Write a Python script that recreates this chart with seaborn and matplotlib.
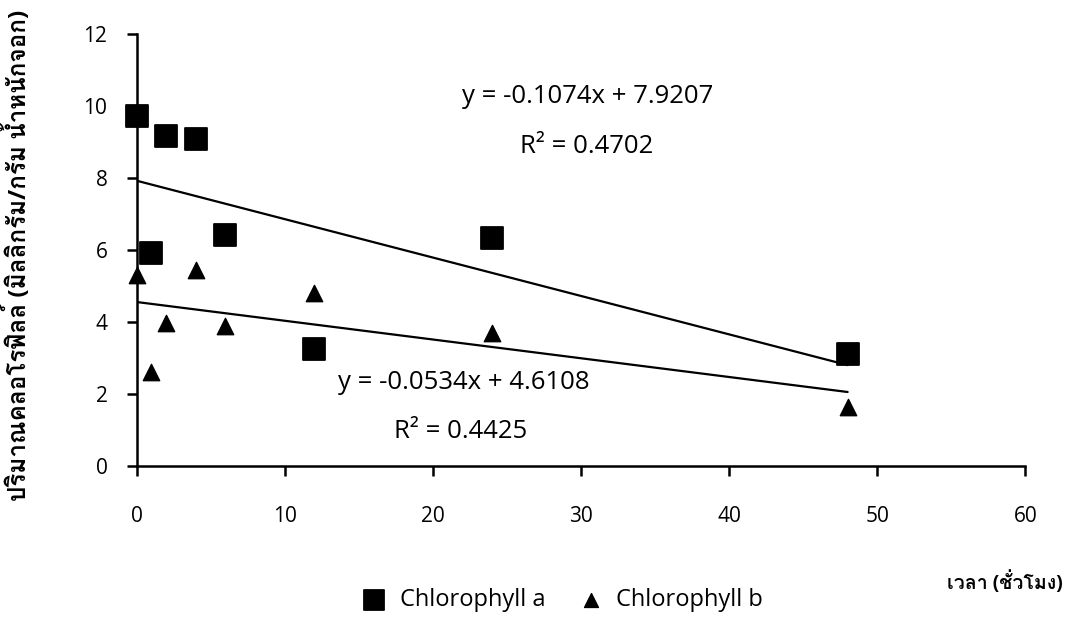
import pandas as pd
import matplotlib
matplotlib.use('Agg')
import matplotlib.pyplot as plt
import seaborn as sns
from matplotlib import font_manager
from matplotlib.ft2font import FT2Font

# data
hours = [0, 1, 2, 4, 6, 12, 24, 48]
chl_a = [9.72, 5.92, 9.17, 9.08, 6.42, 3.25, 6.33, 3.11]
chl_b = [5.30, 2.60, 3.97, 5.44, 3.89, 4.80, 3.70, 1.64]

eq_a = 'y = -0.1074x + 7.9207'
r2_a = 'R² = 0.4702'
eq_b = 'y = -0.0534x + 4.6108'
r2_b = 'R² = 0.4425'

df = pd.DataFrame({'hours': hours, 'Chlorophyll a': chl_a, 'Chlorophyll b': chl_b})

# find an installed font that has Thai glyphs
thai_font = None
for f in font_manager.fontManager.ttflist:
    try:
        if ord('ป') in FT2Font(f.fname).get_charmap():
            thai_font = f.name
            break
    except Exception:
        pass

sns.set_theme(style="white")
fams = ['Open Sans']
if thai_font:
    fams.append(thai_font)
fams.append('DejaVu Sans')
plt.rcParams['font.family'] = fams

fig = plt.figure(figsize=(10.67, 6.38), dpi=100)
ax = fig.add_axes([0.128, 0.270, 0.833, 0.677])

sns.scatterplot(data=df, x='hours', y='Chlorophyll a', marker='s', s=260, color='black',
                edgecolor='black', label='Chlorophyll a', ax=ax, zorder=3, clip_on=False)
sns.scatterplot(data=df, x='hours', y='Chlorophyll b', marker='^', s=140, color='black',
                edgecolor='black', label='Chlorophyll b', ax=ax, zorder=3, clip_on=False)
sns.regplot(data=df, x='hours', y='Chlorophyll a', scatter=False, ci=None, color='black',
            line_kws={'lw': 1.6}, ax=ax)
sns.regplot(data=df, x='hours', y='Chlorophyll b', scatter=False, ci=None, color='black',
            line_kws={'lw': 1.6}, ax=ax)

ax.set_xlim(0, 60)
ax.set_ylim(0, 12)
ax.set_xticks(range(0, 61, 10))
ax.set_yticks(range(0, 13, 2))
sns.despine(ax=ax)
for sp in ['left', 'bottom']:
    ax.spines[sp].set_color('black')
    ax.spines[sp].set_linewidth(1.8)
ax.tick_params(axis='both', bottom=True, left=True, direction='out', length=7, width=1.8,
               color='black', labelsize=15, labelcolor='black')
ax.tick_params(axis='x', pad=22)
ax.tick_params(axis='y', pad=14)

ax.set_xlabel('')
ax.set_ylabel('')
fig.text(0.016, 0.6, 'ปริมาณคลอโรฟิลล์ (มิลลิกรัม/กรัม น้ำหนักจอก)', fontsize=17.5,
         fontweight='bold', color='black', rotation=90, ha='center', va='center')
fig.text(0.996, 0.087, 'เวลา (ชั่วโมง)', fontsize=14, fontweight='bold',
         ha='right', va='center', color='black')

ax.text(22.0, 10.25, eq_a, fontsize=18.5, va='center', color='black')
ax.text(25.9, 8.86, r2_a, fontsize=18.5, va='center', color='black')
ax.text(13.6, 2.31, eq_b, fontsize=18.5, va='center', color='black')
ax.text(17.4, 0.94, r2_b, fontsize=18.5, va='center', color='black')

ax.get_legend().remove()
h, l = ax.get_legend_handles_labels()
leg = fig.legend(h, l, loc='center', bbox_to_anchor=(0.522, 0.06), ncol=2, frameon=False,
                 fontsize=17, handletextpad=0.1, columnspacing=0.9, markerscale=0.85)
for t in leg.get_texts():
    t.set_color('black')

fig.savefig('out.png', dpi=100)
